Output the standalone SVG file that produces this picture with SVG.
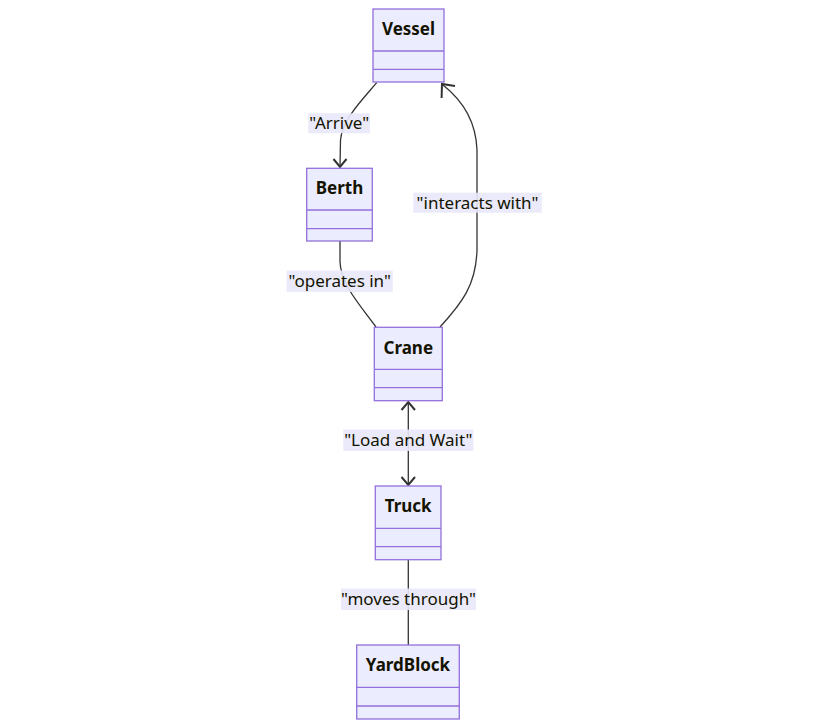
<svg xmlns="http://www.w3.org/2000/svg" width="828" height="728" viewBox="0 0 828 728">
<style>
.box{fill:#ECECFF;stroke:#9370DB;stroke-width:1.3}
.div{stroke:#9370DB;stroke-width:1.3}
.title{font-family:"Noto Sans","DejaVu Sans",sans-serif;font-weight:bold;font-size:17px;fill:#131300;text-anchor:middle}
.edge{fill:none;stroke:#333333;stroke-width:1.3}
.arrow{fill:none;stroke:#333333;stroke-width:2}
.lbg{fill:#E8E8FA;opacity:0.9}
.lbl{font-family:"Noto Sans","DejaVu Sans",sans-serif;font-size:17px;fill:#131300;text-anchor:middle}
</style>
<rect width="828" height="728" fill="#ffffff"/>
<g id="connectors">
<path class="edge" d="M376.7,82.7 C362,100 342,120 340.5,140 L340,166"/>
<polyline class="arrow" points="333.5,159 340,167 346.5,159"/>
<path class="edge" d="M440,327 C462,303 476,285 477,250 L477,150 C476,120 462,100 443,85"/>
<polyline class="arrow" points="441.6,98 442,84 455,86"/>
<path class="edge" d="M340,241 L340,262 C341,285 360,305 376,327"/>
<line class="edge" x1="408.3" y1="402" x2="408.3" y2="485"/>
<polyline class="arrow" points="401.5,410 408.3,402 415,410"/>
<polyline class="arrow" points="401.5,477 408.3,485 415,477"/>
<line class="edge" x1="408.3" y1="560" x2="408.3" y2="645"/>
<g id="labels">
<rect class="lbg" x="308.3" y="113.3" width="61.7" height="20"/>
<text class="lbl" x="339.2" y="129">"Arrive"</text>
<rect class="lbg" x="413.3" y="192.7" width="128.4" height="20"/>
<text class="lbl" x="477.5" y="208.5">"interacts with"</text>
<rect class="lbg" x="286.7" y="270.5" width="106" height="21.5"/>
<text class="lbl" x="339.7" y="287">"operates in"</text>
<rect class="lbg" x="343.3" y="429.5" width="130" height="21.5"/>
<text class="lbl" x="408.3" y="446">"Load and Wait"</text>
<rect class="lbg" x="341" y="588.5" width="135" height="21.5"/>
<text class="lbl" x="408.5" y="605">"moves through"</text>
</g>
</g>
<g id="Vessel">
<rect class="box" x="373" y="9" width="71" height="73"/>
<line class="div" x1="373" y1="51" x2="444" y2="51"/>
<line class="div" x1="373" y1="69.3" x2="444" y2="69.3"/>
<text class="title" x="408.5" y="35">Vessel</text>
</g>
<g id="Berth">
<rect class="box" x="306.7" y="168.3" width="65.6" height="72.7"/>
<line class="div" x1="306.7" y1="210" x2="372.3" y2="210"/>
<line class="div" x1="306.7" y1="228.7" x2="372.3" y2="228.7"/>
<text class="title" x="339.5" y="194">Berth</text>
</g>
<g id="Crane">
<rect class="box" x="374.3" y="327.3" width="68" height="73.4"/>
<line class="div" x1="374.3" y1="369.3" x2="442.3" y2="369.3"/>
<line class="div" x1="374.3" y1="387.7" x2="442.3" y2="387.7"/>
<text class="title" x="408.3" y="353.5">Crane</text>
</g>
<g id="Truck">
<rect class="box" x="375.3" y="486" width="65.7" height="73.7"/>
<line class="div" x1="375.3" y1="528.3" x2="441" y2="528.3"/>
<line class="div" x1="375.3" y1="546.7" x2="441" y2="546.7"/>
<text class="title" x="408.2" y="512">Truck</text>
</g>
<g id="YardBlock">
<rect class="box" x="356.7" y="645" width="102.6" height="74"/>
<line class="div" x1="356.7" y1="687.3" x2="459.3" y2="687.3"/>
<line class="div" x1="356.7" y1="706" x2="459.3" y2="706"/>
<text class="title" x="408" y="671">YardBlock</text>
</g>
</svg>
